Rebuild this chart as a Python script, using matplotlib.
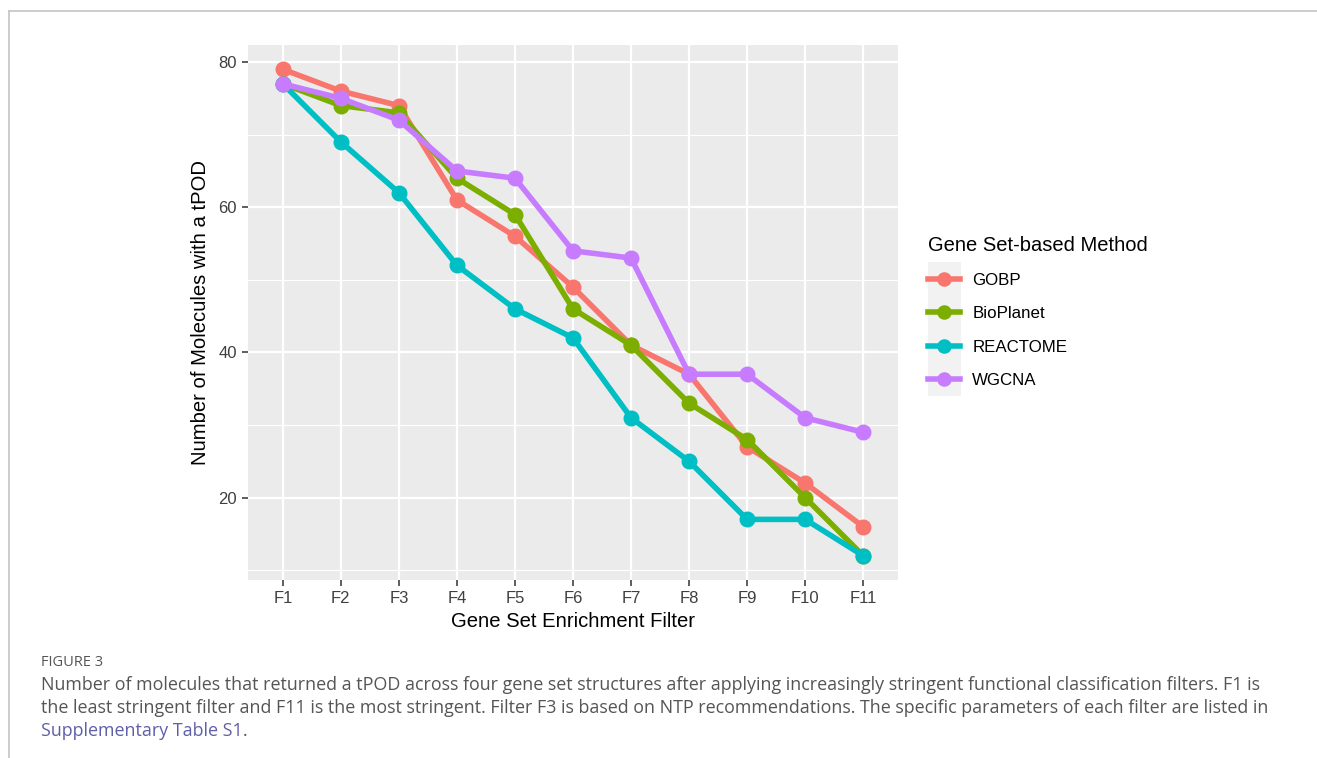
import matplotlib.pyplot as plt
from matplotlib.lines import Line2D
from matplotlib.patches import Rectangle
from matplotlib.ticker import MultipleLocator

filters = ['F1', 'F2', 'F3', 'F4', 'F5', 'F6', 'F7', 'F8', 'F9', 'F10', 'F11']
gobp = [79, 76, 74, 61, 56, 49, 41, 37, 27, 22, 16]
bioplanet = [77, 74, 73, 64, 59, 46, 41, 33, 28, 20, 12]
reactome = [77, 69, 62, 52, 46, 42, 31, 25, 17, 17, 12]
wgcna = [77, 75, 72, 65, 64, 54, 53, 37, 37, 31, 29]

methods = ['GOBP', 'BioPlanet', 'REACTOME', 'WGCNA']
colors = ['#F8766D', '#7CAE00', '#00BFC4', '#C77CFF']

plt.rcParams['font.family'] = ['Liberation Sans', 'DejaVu Sans']

W, H = 1317, 758
fig = plt.figure(figsize=(W / 100, H / 100), dpi=100)

def fx(px):
    return px / W

def fy(py):
    return 1 - py / H

# frame of the figure page
fig.add_artist(Line2D([fx(9), fx(1317)], [fy(11), fy(11)], color='#c4c4c4', lw=1.2))
fig.add_artist(Line2D([fx(9), fx(9)], [fy(11), fy(758)], color='#c4c4c4', lw=1.2))

ax = fig.add_axes([fx(248), fy(580), fx(898) - fx(248), fy(45) - fy(580)])
ax.set_facecolor('#EBEBEB')
for s in ax.spines.values():
    s.set_visible(False)

x = list(range(len(filters)))
series = [gobp, bioplanet, reactome, wgcna]
for vals, name, c in zip(series, methods, colors):
    ax.plot(x, vals, '-o', color=c, lw=4, ms=10.5, label=name, zorder=3)

ax.set_xlim(-0.6, len(filters) - 1 + 0.6)
lo, hi = 12, 79
pad = (hi - lo) * 0.05
ax.set_ylim(lo - pad, hi + pad)
ax.set_xticks(x)
ax.set_xticklabels(filters)
ax.yaxis.set_major_locator(MultipleLocator(20))
ax.yaxis.set_minor_locator(MultipleLocator(10))
ax.grid(which='major', color='white', lw=1.6, zorder=0)
ax.grid(which='minor', axis='y', color='white', lw=0.8, zorder=0)
ax.set_axisbelow(True)
ax.tick_params(axis='both', which='major', length=4.5, width=1.1, color='#333333',
               labelcolor='#3F3F3F', labelsize=12, pad=3.5)
ax.tick_params(axis='y', which='minor', length=0)

ax.set_xlabel('Gene Set Enrichment Filter', fontsize=14.6, color='black', labelpad=4)
ax.set_ylabel('Number of Molecules with a tPOD', fontsize=14.6, color='black', labelpad=6)

# legend key background
fig.add_artist(Rectangle((fx(928), fy(396)), fx(961) - fx(928), fy(262) - fy(396),
                         facecolor='#F2F2F2', edgecolor='none', zorder=-1))
leg = ax.legend(title='Gene Set-based Method', loc='upper left',
                bbox_to_anchor=(fx(921), fy(229)), bbox_transform=fig.transFigure,
                frameon=False, fontsize=12.2, title_fontsize=14.5,
                handlelength=1.9, handletextpad=0.72, labelspacing=1.08,
                borderaxespad=0, markerscale=0.9)
leg._legend_box.align = 'left'

# caption
cap_font = ['Open Sans', 'DejaVu Sans']
cap_size = 12.9
fig.text(fx(41), fy(663), 'FIGURE 3', fontsize=10.5, color='#555555',
         family=cap_font, va='center', ha='left')
lines = [
    'Number of molecules that returned a tPOD across four gene set structures after applying increasingly stringent functional classification filters. F1 is',
    'the least stringent filter and F11 is the most stringent. Filter F3 is based on NTP recommendations. The specific parameters of each filter are listed in',
]
for i, ln in enumerate(lines):
    fig.text(fx(41), fy(685 + 23 * i), ln, fontsize=cap_size, color='#555555',
             family=cap_font, va='center', ha='left')
t1 = fig.text(fx(41), fy(731), 'Supplementary Table S1', fontsize=cap_size, color='#5F5FA8',
              family=cap_font, va='center', ha='left')
ax.annotate('.', xy=(1, 0), xycoords=t1, fontsize=cap_size, color='#555555',
            family=cap_font, va='bottom', ha='left', annotation_clip=False)

fig.savefig('out.png', dpi=100)
